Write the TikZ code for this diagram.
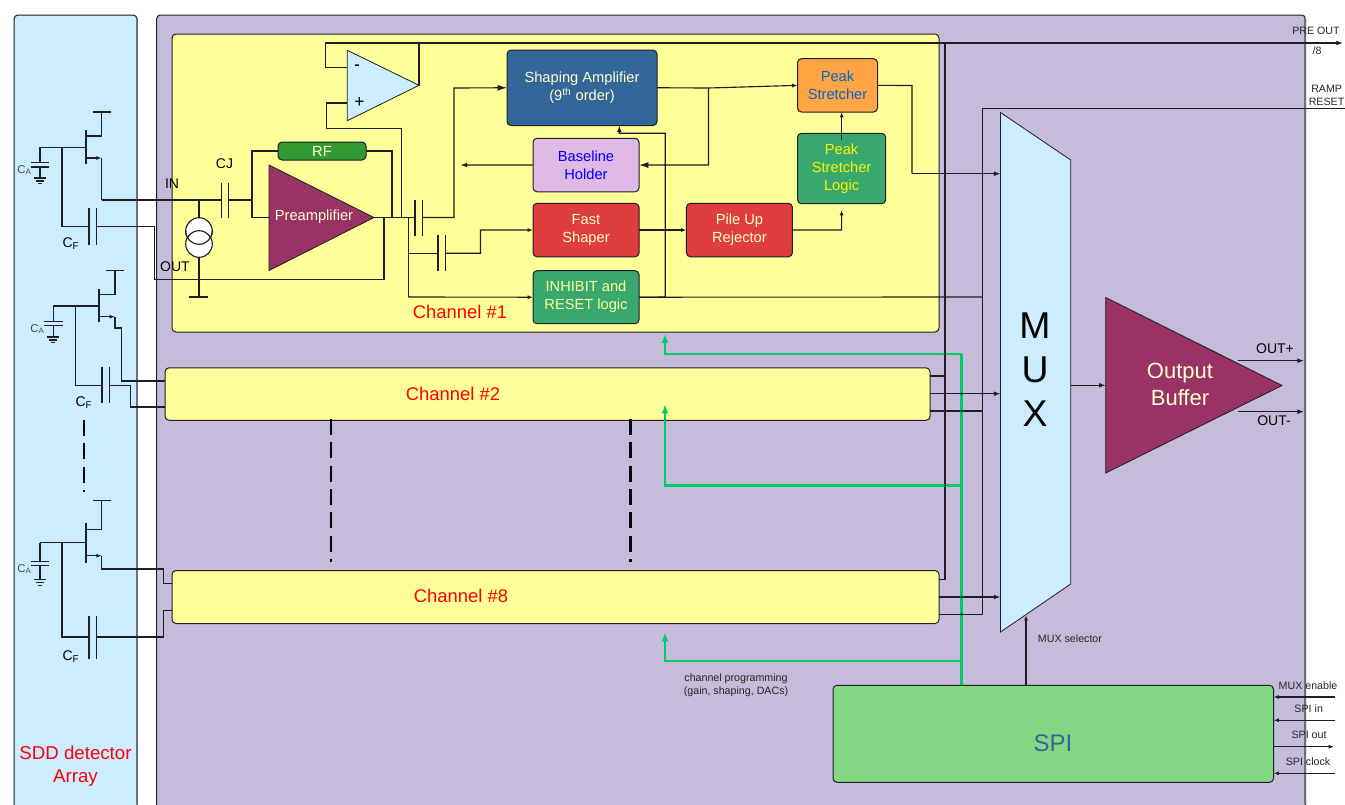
\documentclass[tikz,border=0pt]{standalone}
\usepackage{fontspec}
\setmainfont{Liberation Sans}
\usetikzlibrary{arrows.meta}
\definecolor{wire}{HTML}{1E1E24}
\definecolor{panelblue}{HTML}{CCECFF}
\definecolor{panelpurple}{HTML}{C5BCDC}
\definecolor{chyellow}{HTML}{FFFF99}
\definecolor{edgegray}{HTML}{6E6E80}
\definecolor{plum}{HTML}{993366}
\definecolor{steel}{HTML}{336699}
\definecolor{lilac}{HTML}{DFB8E6}
\definecolor{redbox}{HTML}{E03E3E}
\definecolor{greenbox}{HTML}{38A86E}
\definecolor{orangebox}{HTML}{FFA544}
\definecolor{rfgreen}{HTML}{339933}
\definecolor{spigreen}{HTML}{84D884}
\definecolor{prog}{HTML}{00CC66}
\definecolor{cream}{HTML}{FFFFCC}
\definecolor{peaktext}{HTML}{0066CC}
\tikzset{
  wh/.style 2 args={minimum width=#1*0.75pt,minimum height=#2*0.75pt},
  blk/.style={draw=wire,line width=0.75pt,rounded corners=3pt,align=center,inner sep=0pt,outer sep=0pt,font=\fontsize{11}{13.5}\selectfont},
  chan/.style={blk,fill=chyellow,text=red,font=\fontsize{13.5}{16}\selectfont},
  w/.style={draw=wire,line width=0.85pt},
  arr/.style={w,-{Latex[length=5pt,width=3.6pt]}},
  arrl/.style={w,-{Latex[length=7pt,width=4.5pt]}},
  arrs/.style={w,-{Latex[length=4pt,width=3pt]}},
  gp/.style={draw=prog,line width=1.9pt},
  garr/.style={gp,-{Latex[length=7pt,width=5pt]}},
  tri/.style={draw=wire,line width=0.6pt},
  lab/.style={inner sep=0pt,text=black,font=\fontsize{10.5}{12}\selectfont},
  tiny/.style={inner sep=0pt,text=black!85,font=\fontsize{8}{10}\selectfont},
  plate/.style={draw=wire,line width=1pt},
  jdot/.style={fill=wire},
  dashv/.style={draw=black,line width=1.8pt,dash pattern=on 12pt off 5.5pt},
}
\begin{document}
\begin{tikzpicture}[x=0.75pt,y=-0.75pt]
\path[use as bounding box] (0,0) rectangle (1345,804);
\clip (0,0) rectangle (1345,804);
% panels
\node[blk,fill=panelblue,wh={123}{810},anchor=north west] (sdd) at (14,15) {};
\node[blk,fill=panelpurple,wh={1149}{810},anchor=north west] (asic) at (156.5,15) {};
\draw[edgegray,line width=1.4pt] (137,18)--(137,804) (1305.2,18)--(1305.2,804);
\node[inner sep=0pt,text=red,align=center,font=\fontsize{14}{17.2}\selectfont] (sddlab) at (75.5,766) {SDD detector\\Array};
% channels
\node[chan,wh={767}{298},anchor=north west] (ch1) at (172,34) {};
\node[chan,wh={765}{52.5},anchor=north west] (ch2) at (165,367.8) {};
\node[chan,wh={767}{53},anchor=north west] (ch8) at (172,570.5) {};
\node[inner sep=0pt,text=red,font=\fontsize{13.8}{16}\selectfont] (ch1lab) at (460,312) {Channel \#1};
\node[inner sep=0pt,text=red,font=\fontsize{13.8}{16}\selectfont] (ch2lab) at (453,394) {Channel \#2};
\node[inner sep=0pt,text=red,font=\fontsize{13.8}{16}\selectfont] (ch8lab) at (461,596) {Channel \#8};
% dashed continuation
\coordinate (da1) at (330.7,419); \coordinate (da2) at (330.7,562);
\coordinate (db1) at (630.3,419); \coordinate (db2) at (630.3,562);
\coordinate (dc1) at (84,420); \coordinate (dc2) at (84,492);
\draw[dashv] (da1)--(da2);
\draw[dashv] (db1)--(db2);
\draw[dashv,line width=1.6pt] (dc1)--(dc2);
% blocks
\node[blk,fill=steel,text=cream,wh={150}{75.5},anchor=north west] (shape) at (507,50) {Shaping Amplifier\\(9\textsuperscript{th} order)};
\node[blk,fill=lilac,text=blue,wh={106}{53.5},anchor=north west] (base) at (533,138.3) {Baseline\\Holder};
\node[blk,fill=redbox,text=cream,wh={106}{53.5},anchor=north west] (fast) at (533,203.3) {Fast\\Shaper};
\node[blk,fill=greenbox,text=chyellow,wh={106}{53},anchor=north west] (inh) at (533,270.7) {INHIBIT and\\RESET logic};
\node[blk,fill=redbox,text=cream,wh={106}{53.5},anchor=north west] (pile) at (686.4,203.3) {Pile Up\\Rejector};
\node[blk,fill=orangebox,text=peaktext,wh={80}{53.3},anchor=north west] (peak) at (797.5,58.7) {Peak\\Stretcher};
\node[blk,fill=greenbox,text=yellow,wh={88.2}{70.4},anchor=north west] (pslog) at (797.5,133.3) {Peak\\Stretcher\\Logic};
\node[blk,fill=rfgreen,text=cream,wh={88}{18},anchor=north west] (rf) at (278,142) {RF};
\node[blk,fill=spigreen,text=steel,wh={440.5}{97},anchor=north west,font=\fontsize{18}{20}\selectfont] (spi) at (833,685.3) {};
\node[inner sep=0pt,text=steel,font=\fontsize{18}{20}\selectfont] (spilab) at (1053,743) {SPI};
% triangles and mux
\fill[plum,tri,draw=wire] (269,165)--(269,270.5)--(374,217.5)--cycle;
\node[inner sep=0pt,text=cream,font=\fontsize{11}{13}\selectfont] (pre) at (314,217) {Preamplifier};
\coordinate (preo) at (374,217.5);
\fill[panelblue,tri,draw=wire] (347.3,50.3)--(347.3,120.7)--(419,85.3)--cycle;
\coordinate (opo) at (419,85.3);
\node[inner sep=0pt,font=\bfseries\fontsize{11}{13}\selectfont] (opm) at (357,67) {-};
\node[inner sep=0pt,font=\fontsize{13}{15}\selectfont] (opp) at (359.5,102) {+};
\fill[plum,tri,draw=wire] (1105.7,297.5)--(1105.7,473)--(1282,385.5)--cycle;
\node[inner sep=0pt,text=cream,align=center,font=\fontsize{16.5}{20.2}\selectfont] (buf) at (1180,384.5) {Output\\Buffer};
\coordinate (bufi) at (1105.7,385.3);
\fill[panelblue,tri,draw=wire] (1000.5,112.5)--(1070.7,160)--(1070.7,584)--(1000.5,632)--cycle;
\node[inner sep=0pt,align=center,font=\fontsize{28}{33}\selectfont] (muxlab) at (1035,369.5) {M\\U\\X};
\coordinate (muxo) at (1070.7,385.3);
% block wires
\draw[w] (opo)--(419,43);
\coordinate (preoutend) at (1343,43);
\draw[arr] (325.3,43)--(preoutend);
\draw[w] (325.3,43)--(325.3,67.7)--(347.3,67.7);
\draw[w] (347.3,103)--(326.5,103)--(326.5,128.5)--(401.5,128.5)--(401.5,217.5);
\draw[w] (preo)--(415,217.5);
\draw[arrl] (422.7,217.5)--(454,217.5)--(454,88)--(shape.west);
\draw[w] (408.3,217.5)--(408.3,297);
\draw[arrs] (408.3,297)--(inh.west);
\draw[w] (408.3,253.3)--(438,253.3);
\draw[arrs] (445.6,253.3)--(480.5,253.3)--(480.5,230)--(fast.west);
\draw[w] (shape.east)--(708.5,88);
\draw[arrs] (708.5,88)--(peak.west);
\draw[arrl] (708.5,88)--(708.5,165)--(base.east);
\coordinate (basef) at (460.5,165);
\draw[arr] (base.west)--(basef);
\draw[arrs] (fast.east)--(pile.west);
\coordinate (pslt) at (841.6,210);
\draw[arrs] (pile.east)--(841.6,230)--(pslt);
\draw[arrs] (841.6,140)--(peak.south-|841.6,140);
\draw[arr] (inh.east)--(665.3,297)--(665.3,133.3)--(619.3,133.3)--(619.3,125.5);
\draw[w] (inh.east)--(982.5,297);
\draw[w] (peak.east)--(912,85.5)--(912,173.7);
\coordinate (m1) at (1000.5,173.7);
\draw[arr] (912,173.7)--(m1);
\draw[w] (945,43)--(945,579.3)--(ch8.east|-945,579.3);
\coordinate (rampend) at (1345,108.3);
\draw[w] (rampend)--(982.5,108.3)--(982.5,614.3)--(ch8.east|-982.5,614.3);
% channel 2, 8 wires
\coordinate (m2) at (1000.5,393.7);
\coordinate (m8) at (1000.5,597);
\draw[w] (ch2.east|-945,376)--(945,376);
\draw[arr] (ch2.east|-945,393.7)--(m2);
\draw[w] (ch2.east|-945,411)--(982.5,411);
\draw[arr] (ch8.east|-945,597)--(m8);
\draw[arr] (muxo)--(bufi);
% green programming bus
\coordinate (g1) at (665,333.5); \coordinate (g2) at (665,404); \coordinate (g8) at (665,632);
\draw[gp] (spi.north-|961.5,0)--(961.5,354);
\draw[garr] (961.5,354)--(665,354)--(g1);
\draw[garr] (961.5,485.5)--(665,485.5)--(g2);
\draw[garr] (961.5,661)--(665,661)--(g8);
% SPI wires
\coordinate (msel) at (1026,615);
\draw[arrs] (spi.north-|msel)--(msel);
\coordinate (me) at (1335,697); \coordinate (si) at (1335,720.3); \coordinate (so) at (1334,746.7); \coordinate (sc) at (1335,773.3);
\draw[arrs] (me)--(spi.east|-me);
\draw[arrs] (si)--(spi.east|-si);
\draw[arrs] (spi.east|-so)--(so);
\draw[arrs] (sc)--(spi.east|-sc);
\coordinate (op) at (1304,360.7); \coordinate (om) at (1304,411.7);
\draw[arr] (1237.7,360.7)--(op);
\draw[arr] (1237.7,411.7)--(om);
% junction dots
\foreach \p in {(945,173.7),(982.5,173.7),(945,297),(665.3,230),(665.3,165),(945,354),(945,485.5),(945,393.7),(961.5,393.7),(982.5,393.7),(945,411),(961.5,411),(961.5,597),(982.5,597),(961.5,614.3),(199,279.5)}
  \fill[jdot] \p circle (1.4);
% preamp input network
\draw[w] (101.7,200)--(221.3,200);
\draw[w] (228.7,200)--(252,200)--(252,151)--(rf.west);
\draw[w] (252,200)--(252,217.5)--(269,217.5);
\draw[w] (rf.east)--(392,151)--(392,217.5);
\draw[plate] (221.3,182.5)--(221.3,218) (228.7,182.5)--(228.7,218);
\draw[plate] (415,200)--(415,236) (422.7,200)--(422.7,236);
\draw[plate] (438,235)--(438,270.7) (445.6,235)--(445.6,270.7);
% current source
\draw[w] (199,200)--(199,217.7) (199,257.3)--(199,297) (189,297)--(208,297);
\draw[w,fill=white] (199,231) circle (13.3);
\draw[w,fill=white] (199,244) circle (13.3);
\draw[w] (212.3,231) arc (0:180:13.3);
% feedback
\draw[w] (384,217.5)--(384,279.5)--(154.5,279.5)--(154.5,226.3)--(96.5,226.3);
\draw[w] (89,226.3)--(62,226.3)--(62,147);
\node[lab] (lin) at (172,184) {IN};
\node[lab] (lcj) at (224.5,164) {CJ};
\node[lab] (lout) at (175,267) {OUT};
% transistor 1
\draw[w] (92.7,112)--(110.7,112) (101.7,112)--(101.7,136)--(86,136);
\draw[plate] (86,130)--(86,164);
\draw[w] (40,147.3)--(86,147.3);
\draw[arrs] (86,158)--(101.7,158);
\draw[w] (101.7,158)--(101.7,200);
\draw[plate] (89,208)--(89,245) (96.5,208)--(96.5,245);
\draw[plate] (31,162.7)--(49,162.7) (31,167)--(49,167);
\draw[w] (40,147.3)--(40,162.7) (40,167)--(40,178) (34,178)--(46,178) (36,181)--(44,181) (38,183.5)--(42,183.5);
\node[inner sep=0pt,text=black!70,font=\fontsize{8.5}{10}\selectfont] (ca1) at (24.5,170) {C\textsubscript{A}};
\node[lab] (cf1) at (71,244) {C\textsubscript{F}};
% transistor 2
\draw[w] (105.7,270.7)--(124,270.7) (115,270.7)--(115,294.7)--(99,294.7);
\draw[plate] (99,289.3)--(99,322.3);
\draw[w] (53.3,306)--(99,306);
\draw[arrs] (99,316.7)--(115,316.7);
\draw[w] (115,316.7)--(115,328)--(121.7,328)--(121.7,381)--(ch2.west|-121.7,381);
\draw[w] (75.3,306)--(75.3,385.3)--(102,385.3);
\draw[plate] (102,367.3)--(102,403.3) (109.7,367.3)--(109.7,403.3);
\draw[w] (109.7,385.3)--(130.3,385.3)--(130.3,407)--(ch2.west|-130.3,407);
\draw[plate] (44,321.7)--(62.7,321.7) (44,325.5)--(62.7,325.5);
\draw[w] (53.3,306)--(53.3,321.7) (53.3,325.5)--(53.3,337) (47.3,337)--(59.3,337) (49.3,340)--(57.3,340) (51.3,342.5)--(55.3,342.5);
\node[inner sep=0pt,text=black!70,font=\fontsize{8.5}{10}\selectfont] (ca2) at (37.5,329) {C\textsubscript{A}};
\node[lab] (cf2) at (84,403) {C\textsubscript{F}};
% transistor 8
\draw[w] (92.7,500.7)--(110.7,500.7) (101.7,500.7)--(101.7,529.3)--(86,529.3);
\draw[plate] (86,522.7)--(86,562.7);
\draw[w] (40,542.7)--(86,542.7);
\draw[arrs] (86,555.7)--(101.7,555.7);
\draw[w] (101.7,555.7)--(101.7,569)--(163.3,569)--(163.3,583.3)--(ch8.west|-163.3,583.3);
\draw[w] (62,542.7)--(62,637)--(89,637);
\draw[plate] (89,615.7)--(89,658.7) (96.7,615.7)--(96.7,658.7);
\draw[w] (96.7,637)--(163.3,637)--(163.3,610.3)--(ch8.west|-163.3,610.3);
\draw[plate] (31,561.3)--(49,561.3) (31,565.7)--(49,565.7);
\draw[w] (40,542.7)--(40,561.3) (40,565.7)--(40,579.7) (34,579.7)--(46,579.7) (36,582.7)--(44,582.7) (38,585.2)--(42,585.2);
\node[inner sep=0pt,text=black!70,font=\fontsize{8.5}{10}\selectfont] (ca8) at (24.5,569) {C\textsubscript{A}};
\node[lab] (cf8) at (71,657) {C\textsubscript{F}};
% small labels
\node[tiny,anchor=west] (lpre) at (1292,30.5) {PRE OUT};
\node[tiny] (l8) at (1317,50.7) {/8};
\node[tiny,anchor=west] (lramp) at (1311,89) {RAMP};
\node[tiny,anchor=west] (lres) at (1308.5,101.7) {RESET};
\node[lab] (lop) at (1275,348.5) {OUT+};
\node[lab] (lom) at (1274,421) {OUT-};
\node[tiny,anchor=west] (lsel) at (1037.7,639) {MUX selector};
\node[tiny,align=center] (lprog) at (736,685.5) {channel programming\\(gain, shaping, DACs)};
\node[tiny] (lme) at (1308,685.7) {MUX enable};
\node[tiny] (lsi) at (1308.7,709) {SPI in};
\node[tiny] (lso) at (1309,735) {SPI out};
\node[tiny] (lsc) at (1308,762) {SPI clock};
\end{tikzpicture}
\end{document}
